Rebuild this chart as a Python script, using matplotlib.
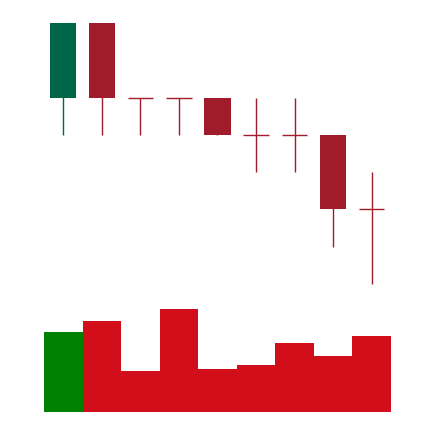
import numpy as np
import matplotlib
matplotlib.use("Agg")
import matplotlib.pyplot as plt

# OHLC data for each day
opens = [8, 10, 8, 8, 8, 7, 7, 7, 5]
highs = [10, 10, 8, 8, 8, 8, 8, 7, 6]
lows = [7, 7, 7, 7, 7, 6, 6, 4, 3]
closes = [10, 8, 8, 8, 7, 7, 7, 5, 5]
volumes = [80, 91, 41, 103, 43, 47, 69, 56, 76]

UP = "#00664a"
DOWN = "#a01c2a"
VOL_UP = "#008000"
VOL_DOWN = "#d20e1a"

fig = plt.figure(figsize=(4.34, 4.22), dpi=100)
ax = fig.add_axes([44 / 434, 1 - 284 / 422, 347 / 434, 261 / 422])
axv = fig.add_axes([44 / 434, 1 - 412 / 422, 347 / 434, 103 / 422])

x = np.arange(len(opens))
o = np.array(opens)
c = np.array(closes)
up = c > o
colors = [UP if u else DOWN for u in up]

# wicks (behind bodies)
ax.vlines(x, lows, highs, colors=colors, linewidth=1, clip_on=False, zorder=1)
# bodies
bodies = np.abs(c - o)
ax.bar(x, bodies, bottom=np.minimum(o, c), width=0.68, color=colors,
       clip_on=False, zorder=2)
# doji ticks
doji = bodies == 0
ax.hlines(o[doji], x[doji] - 0.33, x[doji] + 0.33, colors=DOWN, linewidth=1,
          clip_on=False, zorder=2)

ax.set_xlim(-0.5, len(opens) - 0.5)
ax.set_ylim(3, 10)
ax.axis("off")

# volume
vcolors = [VOL_UP if u else VOL_DOWN for u in up]
axv.bar(x, volumes, width=1.0, color=vcolors)
axv.set_xlim(-0.5, len(opens) - 0.5)
axv.set_ylim(0, max(volumes))
axv.axis("off")

fig.savefig("out.png", dpi=100)
